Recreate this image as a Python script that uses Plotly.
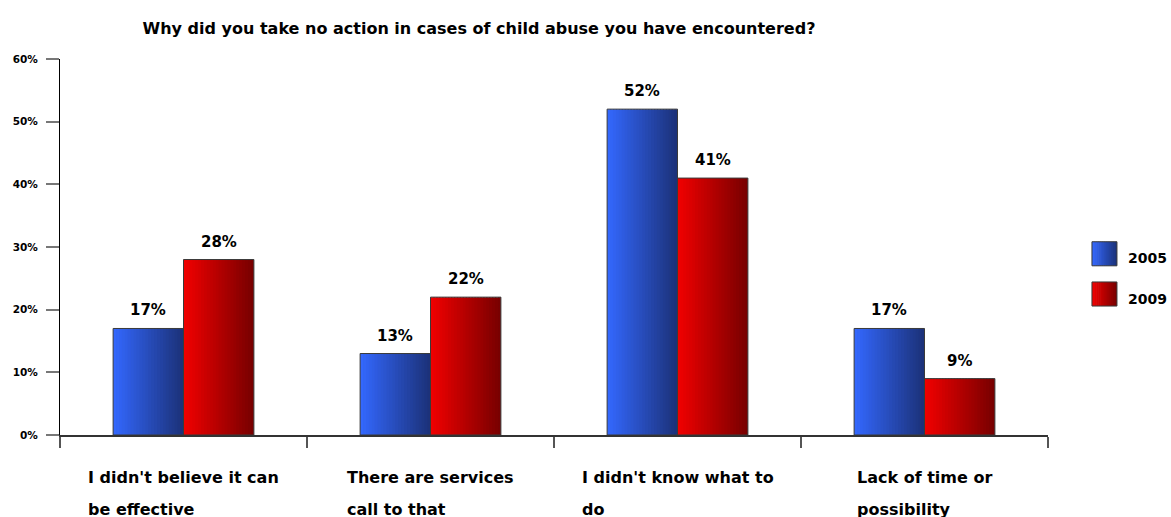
import plotly.graph_objects as go

# ---- data ----
category_lines = [
    ("I didn't believe it can", "be effective"),
    ("There are services", "call to that"),
    ("I didn't know what to", "do"),
    ("Lack of time or", "possibility"),
]
years = ["2005", "2009"]
values_2005 = [17, 13, 52, 17]
values_2009 = [28, 22, 41, 9]
y_tick_values = [0, 10, 20, 30, 40, 50, 60]
y_tick_labels = ["0%", "10%", "20%", "30%", "40%", "50%", "60%"]
title_text = "Why did you take no action in cases of child abuse you have encountered?"

# ---- styling ----
FONT = "DejaVu Sans"
BAR_W = 0.285                      # width of a single bar in category units
STRIPS = 24                        # slices used to shade each bar horizontally
GRADIENTS = {
    "2005": ((52, 104, 255), (27, 49, 119)),
    "2009": ((242, 0, 0), (118, 0, 0)),
}
OUTLINE = "#3a3a3a"


def mix(c0, c1, t):
    return "rgb(%d,%d,%d)" % tuple(round(a + (b - a) * t) for a, b in zip(c0, c1))


x_idx = list(range(len(category_lines)))
series = [("2005", values_2005, -BAR_W), ("2009", values_2009, 0.0)]

fig = go.Figure()

for name, vals, base in series:
    c0, c1 = GRADIENTS[name]
    step = BAR_W / STRIPS
    for k in range(STRIPS):
        off = base + k * step
        w = min(step * 1.4, base + BAR_W - off)
        fig.add_trace(go.Bar(
            x=x_idx, y=vals, offset=off, width=w,
            marker=dict(color=mix(c0, c1, (k + 0.5) / STRIPS), line=dict(width=0)),
            showlegend=False, hoverinfo="skip",
        ))
    # thin outline around the whole bar
    fig.add_trace(go.Bar(
        x=x_idx, y=vals, offset=base, width=BAR_W, name=name,
        marker=dict(color="rgba(0,0,0,0)", line=dict(color=OUTLINE, width=1)),
        showlegend=False,
    ))
    # value labels above the bars
    for i, v in zip(x_idx, vals):
        fig.add_annotation(
            x=i + base + BAR_W / 2, y=v, xref="x", yref="y",
            text=f"{v}%", showarrow=False, yanchor="bottom", yshift=7,
            font=dict(family=FONT, size=15, color="black", weight="bold"),
        )

# two-line category labels: second line left-aligned under the first,
# with wider line spacing (done with two annotations sharing the same box width)
for i, (l1, l2) in enumerate(category_lines):
    hidden1 = f"<span style='color:rgba(0,0,0,0)'>{l1}</span>"
    hidden2 = f"<span style='color:rgba(0,0,0,0)'>{l2}</span>"
    for txt, shift in ((f"{l1}<br>{hidden2}", -31), (f"{hidden1}<br>{l2}", -42)):
        fig.add_annotation(
            x=i, y=0, xref="x", yref="paper", text=txt, showarrow=False,
            xanchor="center", yanchor="top", align="left", yshift=shift,
            font=dict(family=FONT, size=16, color="black", weight="bold"),
        )

# custom legend with shaded swatches
legend_rows = [("2005", 0.514), ("2009", 0.407)]
sw_x0, sw_x1, sw_h = 1.0445, 1.0698, 0.064
for name, ytop in legend_rows:
    c0, c1 = GRADIENTS[name]
    n = 12
    dx = (sw_x1 - sw_x0) / n
    for k in range(n):
        fig.add_shape(type="rect", xref="paper", yref="paper",
                      x0=sw_x0 + k * dx, x1=min(sw_x0 + (k + 1.3) * dx, sw_x1),
                      y0=ytop - sw_h, y1=ytop,
                      fillcolor=mix(c0, c1, (k + 0.5) / n), line=dict(width=0), layer="above")
    fig.add_shape(type="rect", xref="paper", yref="paper",
                  x0=sw_x0, x1=sw_x1, y0=ytop - sw_h, y1=ytop,
                  line=dict(color=OUTLINE, width=1), fillcolor="rgba(0,0,0,0)", layer="above")
    fig.add_annotation(x=1.0789, y=ytop - sw_h / 2 - 0.012, xref="paper", yref="paper",
                       text=name, showarrow=False, xanchor="left", yanchor="middle",
                       font=dict(family=FONT, size=14, color="black", weight="bold"))

fig.update_layout(
    width=1171, height=517,
    margin=dict(l=60, r=123, t=59, b=82),
    paper_bgcolor="white", plot_bgcolor="white",
    barmode="overlay",
    showlegend=False,
    title=dict(text=title_text, x=479 / 1171, xref="container", xanchor="center",
               y=1 - 28 / 517, yref="container", yanchor="middle",
               font=dict(family=FONT, size=16, color="black", weight="bold")),
    xaxis=dict(range=[-0.5, 3.5], tickmode="array",
               tickvals=[-0.5, 0.5, 1.5, 2.5, 3.5], showticklabels=False,
               ticks="outside", ticklen=11, tickcolor="#555555", tickwidth=1.5,
               showline=True, linecolor="#333333", linewidth=1.5,
               showgrid=False, zeroline=False, fixedrange=True),
    yaxis=dict(range=[0, 60], tickmode="array", tickvals=y_tick_values,
               ticktext=y_tick_labels, ticks="outside", ticklen=13,
               tickcolor="#777777", tickwidth=2, ticklabelstandoff=6,
               showline=True, linecolor="black", linewidth=1,
               showgrid=False, zeroline=False, fixedrange=True,
               tickfont=dict(family=FONT, size=10.5, color="black", weight="bold")),
)

fig.write_html("out.html")
